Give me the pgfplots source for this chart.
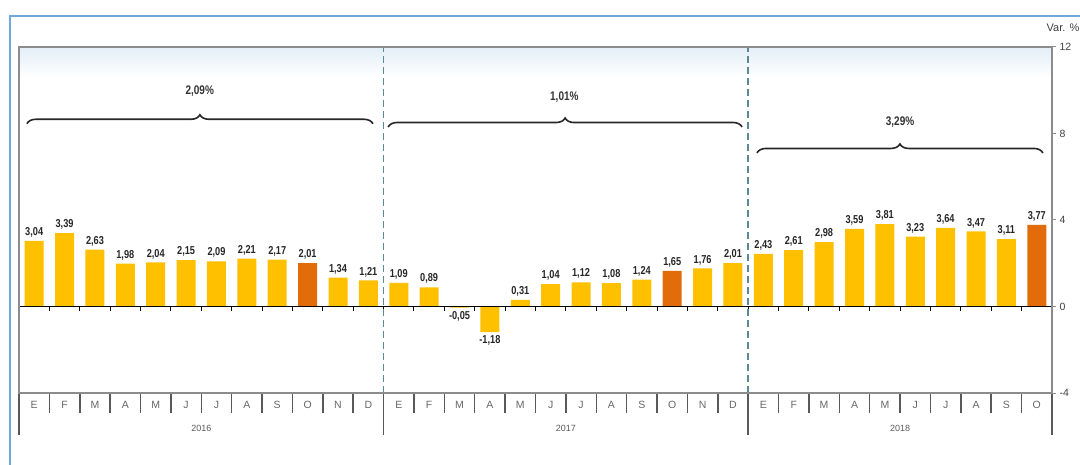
\documentclass[border=0pt]{standalone}
\usepackage{pgfplots}
\pgfplotsset{compat=1.18}
\usepackage{fontspec}
\setmainfont{Liberation Sans}
\newfontfamily\narrow[FakeStretch=0.8]{Liberation Sans}
\usetikzlibrary{decorations.pathreplacing}
\definecolor{barY}{HTML}{FFC000}
\definecolor{barO}{HTML}{E36C0A}
\definecolor{frameblue}{HTML}{6FA8DC}
\definecolor{dashc}{HTML}{5B8A95}
\definecolor{axgray}{HTML}{8C8C8C}
\definecolor{bgtop}{HTML}{E3EEF7}
\begin{document}
\begin{tikzpicture}[x=1pt,y=1pt]
\path[use as bounding box] (0,0) rectangle (1080,464);
\draw[frameblue, line width=2pt] (1085,448) -- (10,448) -- (10,-5);
\begin{axis}[
  at={(19pt,71pt)}, anchor=south west,
  width=1033pt, height=346pt, scale only axis,
  xmin=-0.5, xmax=33.5, ymin=-4, ymax=12,
  clip=false,
  axis on top,
  axis line style={axgray, line width=1.3pt},
  ytick={-4,0,4,8,12},
  yticklabel pos=right,
  ytick pos=right,
  ytick style={axgray, line width=1pt},
  tick align=outside,
  major tick length=4pt,
  y tick label style={font=\fontsize{10.5}{10.5}\selectfont, text=black!75, /pgf/number format/assume math mode=true},
  xtick={0,...,33},
  xticklabels={E,F,M,A,M,J,J,A,S,O,N,D,E,F,M,A,M,J,J,A,S,O,N,D,E,F,M,A,M,J,J,A,S,O},
  xtick pos=lower,
  xtick style={draw=none},
  xticklabel style={font=\fontsize{10.5}{10.5}\selectfont, text=black!60, anchor=center, yshift=-8pt},
  nodes near coords={\pgfmathprintnumber[fixed,fixed zerofill,precision=2,use comma,assume math mode=true]{\pgfplotspointmeta}},
  every node near coord/.append style={font=\narrow\bfseries\fontsize{11.5}{12}\selectfont, text=black!85},
]
% background gradient
\fill[top color=bgtop, bottom color=white, draw=none] (axis cs:-0.5,12) rectangle (axis cs:33.5,10.6);

\addplot[ybar, bar width=19pt, bar shift=0pt, fill=barY, draw=none] coordinates {
 (0,3.04) (1,3.39) (2,2.63) (3,1.98) (4,2.04) (5,2.15) (6,2.09) (7,2.21) (8,2.17) (10,1.34) (11,1.21)
 (12,1.09) (13,0.89) (14,-0.05) (15,-1.18) (16,0.31) (17,1.04) (18,1.12) (19,1.08) (20,1.24) (22,1.76) (23,2.01)
 (24,2.43) (25,2.61) (26,2.98) (27,3.59) (28,3.81) (29,3.23) (30,3.64) (31,3.47) (32,3.11)
};
\addplot[ybar, bar width=19pt, bar shift=0pt, fill=barO, draw=none] coordinates {
 (9,2.01) (21,1.65) (33,3.77)
};

% zero line
\draw[black, line width=1.5pt] (axis cs:-0.5,0) -- (axis cs:33.5,0);
\pgfplotsinvokeforeach{0,...,33}{
  \draw[black, line width=1pt] (axis cs:#1+0.5,0) -- ([yshift=-4pt]axis cs:#1+0.5,0);
}
% category separators
\pgfplotsinvokeforeach{0,...,34}{
  \draw[black!65, line width=1.5pt] (axis cs:#1-0.5,-4) -- ([yshift=-20pt]axis cs:#1-0.5,-4);
}
% year separators
\pgfplotsinvokeforeach{-0.5,11.5,23.5,33.5}{
  \draw[black!65, line width=1.5pt] (axis cs:#1,-4) -- ([yshift=-42pt]axis cs:#1,-4);
}
% dashed dividers
\draw[dashc, dash pattern=on 7pt off 4pt, line width=1.6pt] (axis cs:11.5,-4) -- (axis cs:11.5,12);
\draw[dashc, dash pattern=on 7pt off 4pt, line width=1.6pt] (axis cs:23.5,-4) -- (axis cs:23.5,12);

% year labels
\node[font=\fontsize{9}{9}\selectfont, text=black!65] at ([yshift=-35pt]axis cs:5.5,-4) {2016};
\node[font=\fontsize{9}{9}\selectfont, text=black!65] at ([yshift=-35pt]axis cs:17.5,-4) {2017};
\node[font=\fontsize{9}{9}\selectfont, text=black!65] at ([yshift=-35pt]axis cs:28.5,-4) {2018};

% braces
\draw[decorate, decoration={brace, amplitude=9pt}, line width=1.6pt, black!85] (axis cs:-0.24,8.45) -- (axis cs:11.15,8.45);
\node[font=\narrow\bfseries\fontsize{12.5}{13}\selectfont, text=black!80] at (axis cs:5.45,9.95) {2,09\%};
\draw[decorate, decoration={brace, amplitude=9pt}, line width=1.6pt, black!85] (axis cs:11.65,8.3) -- (axis cs:23.3,8.3);
\node[font=\narrow\bfseries\fontsize{12.5}{13}\selectfont, text=black!80] at (axis cs:17.45,9.7) {1,01\%};
\draw[decorate, decoration={brace, amplitude=9pt}, line width=1.6pt, black!85] (axis cs:23.79,7.1) -- (axis cs:33.2,7.1);
\node[font=\narrow\bfseries\fontsize{12.5}{13}\selectfont, text=black!80] at (axis cs:28.5,8.55) {3,29\%};
\end{axis}
\node[font=\fontsize{11}{11}\selectfont, text=black!75] at (1063,436) {Var. \%};
\end{tikzpicture}
\end{document}
